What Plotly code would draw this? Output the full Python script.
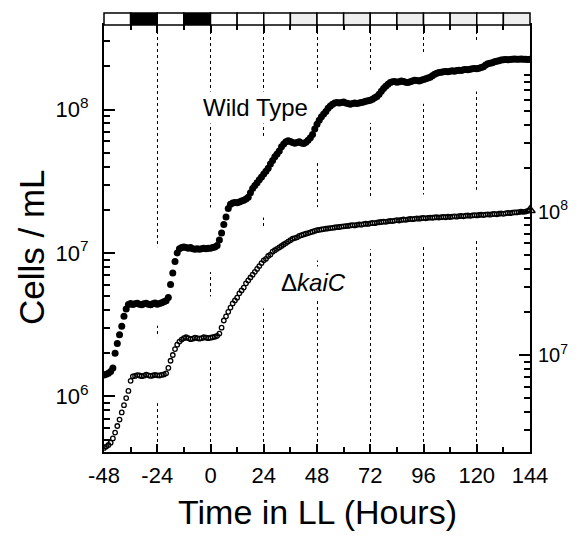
import plotly.graph_objects as go
import math

# ---------------- data ----------------
hours = list(range(-48, 145))

wild_type = [
    1.41e6, 1.43e6, 1.45e6, 1.49e6, 1.58e6, 2.0e6, 2.34e6, 2.69e6, 3.09e6, 3.63e6,   # -48..-39
    4.07e6, 4.37e6, 4.45e6, 4.38e6, 4.42e6, 4.47e6, 4.40e6, 4.36e6, 4.43e6, 4.46e6,  # -38..-29
    4.39e6, 4.35e6, 4.42e6, 4.48e6, 4.40e6, 4.44e6, 4.50e6, 4.58e6, 4.65e6, 4.9e6,   # -28..-19
    6.03e6, 7.24e6, 8.71e6, 1.0e7, 1.07e7, 1.09e7, 1.10e7, 1.09e7, 1.08e7, 1.09e7,   # -18..-9
    1.07e7, 1.06e7, 1.07e7, 1.06e7, 1.07e7, 1.08e7, 1.07e7, 1.08e7, 1.08e7, 1.09e7,  # -8..1
    1.10e7, 1.13e7, 1.23e7, 1.38e7, 1.58e7, 1.78e7, 2.04e7, 2.19e7, 2.23e7, 2.25e7,  # 2..11
    2.24e7, 2.27e7, 2.30e7, 2.33e7, 2.38e7, 2.45e7, 2.63e7, 2.82e7, 2.95e7, 3.09e7,  # 12..21
    3.24e7, 3.39e7, 3.55e7, 3.72e7, 3.89e7, 4.17e7, 4.42e7, 4.68e7, 4.90e7, 5.13e7,  # 22..31
    5.50e7, 5.75e7, 5.95e7, 6.05e7, 5.98e7, 5.90e7, 5.82e7, 5.88e7, 5.95e7, 5.85e7,  # 32..41
    5.80e7, 5.92e7, 6.10e7, 6.35e7, 6.70e7, 7.30e7, 7.90e7, 8.40e7, 8.90e7, 9.30e7,  # 42..51
    9.70e7, 1.02e8, 1.06e8, 1.09e8, 1.11e8, 1.12e8, 1.11e8, 1.12e8, 1.13e8, 1.11e8,  # 52..61
    1.10e8, 1.09e8, 1.10e8, 1.11e8, 1.10e8, 1.11e8, 1.12e8, 1.13e8, 1.14e8, 1.15e8,  # 62..71
    1.16e8, 1.18e8, 1.21e8, 1.23e8, 1.28e8, 1.34e8, 1.40e8, 1.45e8, 1.50e8, 1.54e8,  # 72..81
    1.56e8, 1.57e8, 1.55e8, 1.56e8, 1.58e8, 1.57e8, 1.55e8, 1.54e8, 1.56e8, 1.58e8,  # 82..91
    1.60e8, 1.59e8, 1.58e8, 1.60e8, 1.62e8, 1.64e8, 1.66e8, 1.68e8, 1.72e8, 1.76e8,  # 92..101
    1.79e8, 1.81e8, 1.82e8, 1.83e8, 1.84e8, 1.83e8, 1.85e8, 1.86e8, 1.85e8, 1.87e8,  # 102..111
    1.88e8, 1.87e8, 1.89e8, 1.90e8, 1.89e8, 1.91e8, 1.92e8, 1.93e8, 1.92e8, 1.94e8,  # 112..121
    1.96e8, 1.99e8, 2.04e8, 2.08e8, 2.10e8, 2.12e8, 2.15e8, 2.17e8, 2.19e8, 2.21e8,  # 122..131
    2.22e8, 2.23e8, 2.22e8, 2.23e8, 2.24e8, 2.25e8, 2.24e8, 2.24e8, 2.25e8, 2.24e8,  # 132..141
    2.24e8, 2.23e8, 2.24e8,                                                          # 142..144
]

delta_kaic = [
    2.25e6, 2.30e6, 2.36e6, 2.45e6, 2.62e6, 2.88e6, 3.20e6, 3.55e6, 3.98e6, 4.47e6,  # -48..-39
    5.01e6, 5.62e6, 6.61e6, 7.10e6, 7.15e6, 7.25e6, 7.20e6, 7.12e6, 7.18e6, 7.30e6,  # -38..-29
    7.22e6, 7.15e6, 7.20e6, 7.28e6, 7.22e6, 7.20e6, 7.26e6, 7.32e6, 7.45e6, 8.13e6,  # -28..-19
    9.12e6, 1.0e7, 1.10e7, 1.18e7, 1.24e7, 1.28e7, 1.31e7, 1.33e7, 1.31e7, 1.29e7,   # -18..-9
    1.30e7, 1.32e7, 1.31e7, 1.30e7, 1.31e7, 1.33e7, 1.32e7, 1.31e7, 1.32e7, 1.33e7,  # -8..1
    1.34e7, 1.36e7, 1.41e7, 1.55e7, 1.74e7, 1.86e7, 2.0e7, 2.14e7, 2.29e7, 2.40e7,   # 2..11
    2.51e7, 2.69e7, 2.82e7, 2.95e7, 3.16e7, 3.31e7, 3.47e7, 3.63e7, 3.80e7, 3.98e7,  # 12..21
    4.17e7, 4.37e7, 4.57e7, 4.68e7, 4.90e7, 5.01e7, 5.25e7, 5.37e7, 5.50e7, 5.62e7,  # 22..31
    5.75e7, 5.89e7, 6.03e7, 6.17e7, 6.31e7, 6.46e7, 6.53e7, 6.61e7, 6.76e7, 6.84e7,  # 32..41
    6.92e7, 7.0e7, 7.08e7, 7.16e7, 7.24e7, 7.33e7, 7.41e7, 7.45e7, 7.50e7, 7.55e7,   # 42..51
    7.59e7, 7.62e7, 7.67e7, 7.70e7, 7.74e7, 7.78e7, 7.80e7, 7.85e7, 7.88e7, 7.92e7,  # 52..61
    7.94e7, 8.0e7, 8.05e7, 8.0e7, 8.08e7, 8.13e7, 8.10e7, 8.18e7, 8.22e7, 8.20e7,    # 62..71
    8.28e7, 8.32e7, 8.30e7, 8.38e7, 8.42e7, 8.45e7, 8.51e7, 8.48e7, 8.55e7, 8.60e7,  # 72..81
    8.58e7, 8.65e7, 8.70e7, 8.66e7, 8.74e7, 8.80e7, 8.76e7, 8.82e7, 8.88e7, 8.85e7,  # 82..91
    8.90e7, 8.95e7, 8.92e7, 8.98e7, 9.02e7, 8.96e7, 9.04e7, 9.08e7, 9.05e7, 9.10e7,  # 92..101
    9.12e7, 9.08e7, 9.14e7, 9.18e7, 9.12e7, 9.20e7, 9.16e7, 9.22e7, 9.26e7, 9.20e7,  # 102..111
    9.28e7, 9.32e7, 9.26e7, 9.35e7, 9.38e7, 9.33e7, 9.40e7, 9.44e7, 9.40e7, 9.46e7,  # 112..121
    9.50e7, 9.44e7, 9.52e7, 9.56e7, 9.50e7, 9.58e7, 9.62e7, 9.56e7, 9.65e7, 9.70e7,  # 122..131
    9.64e7, 9.72e7, 9.78e7, 9.74e7, 9.82e7, 9.88e7, 9.85e7, 9.92e7, 9.98e7, 9.95e7,  # 132..141
    1.0e8, 1.01e8, 1.02e8,                                                           # 142..144
]

x_ticks = [-48, -24, 0, 24, 48, 72, 96, 120, 144]
left_ticks = [1e6, 1e7, 1e8]
left_labels = ["10<sup>6</sup>", "10<sup>7</sup>", "10<sup>8</sup>"]
right_ticks = [1e7, 1e8]
right_labels = ["10<sup>7</sup>", "10<sup>8</sup>"]

# light schedule bar, 12 h blocks from -48 to 144: L light, D dark, S subjective (stippled)
bar_states = ["L", "D", "L", "D", "L", "L", "L", "S", "L", "S", "L", "S", "L", "S", "L", "S"]
bar_block = 12

# ---------------- figure ----------------
FONT = "Liberation Sans, Arial, Helvetica, sans-serif"
X0, X1 = -48, 144
left_range = [5.613, 8.589]
right_range = [6.324, 9.300]

# the page body adds an 8 px margin, so the figure is 16 px smaller than the window
W, H = 560, 524
ML, MR, MT, MB = 96, 38, 17, 80
plot_w = W - ML - MR
plot_h = H - MT - MB


def minor_vals(lo, hi):
    vals = []
    for e in range(int(math.floor(lo)), int(math.ceil(hi)) + 1):
        for k in range(2, 10):
            v = k * 10 ** e
            if lo <= math.log10(v) <= hi:
                vals.append(v)
    return vals


fig = go.Figure()

# white halos that interrupt the dotted guide lines around the curves
fig.add_trace(go.Scatter(x=hours, y=wild_type, mode="lines", yaxis="y",
                         line=dict(color="white", width=50), hoverinfo="skip", showlegend=False))
fig.add_trace(go.Scatter(x=hours, y=delta_kaic, mode="lines", yaxis="y2",
                         line=dict(color="white", width=50), hoverinfo="skip", showlegend=False))

fig.add_trace(go.Scatter(x=hours, y=wild_type, mode="markers", yaxis="y", name="Wild Type",
                         marker=dict(symbol="circle", size=7, color="black"), showlegend=False))
fig.add_trace(go.Scatter(x=hours, y=delta_kaic, mode="markers", yaxis="y2", name="ΔkaiC",
                         marker=dict(symbol="circle-open", size=4.5, color="black",
                                     line=dict(width=1.3, color="black")), showlegend=False))
# small open triangle marking the end of the ΔkaiC series at the right axis
fig.add_trace(go.Scatter(x=hours[-1:], y=delta_kaic[-1:], mode="markers", yaxis="y2",
                         marker=dict(symbol="triangle-up-open", size=9, color="black",
                                     line=dict(width=1.5, color="black")),
                         cliponaxis=False, hoverinfo="skip", showlegend=False))

axis_common = dict(showline=True, linecolor="black", linewidth=2, ticks="inside",
                   tickcolor="black", tickwidth=1.5, automargin=False)

fig.update_layout(
    width=W, height=H,
    margin=dict(l=ML, r=MR, t=MT, b=MB, pad=0, autoexpand=False),
    paper_bgcolor="white", plot_bgcolor="white",
    font=dict(family=FONT, color="black"),
    xaxis=dict(range=[X0, X1], tickmode="array", tickvals=x_ticks,
               ticktext=[str(v) for v in x_ticks], ticklen=8, mirror="ticks",
               showgrid=True, gridcolor="black", gridwidth=1, griddash="dot",
               zeroline=False, ticklabelstandoff=3,
               tickfont=dict(family=FONT, size=22, color="black"),
               minor=dict(dtick=12, tick0=-48, ticks="inside", ticklen=5,
                          tickcolor="black", tickwidth=1.5, showgrid=False),
               **axis_common),
    yaxis=dict(type="log", range=left_range, tickmode="array", tickvals=left_ticks,
               ticktext=left_labels, ticklen=11, showgrid=False, zeroline=False,
               ticklabelstandoff=9,
               tickfont=dict(family=FONT, size=22, color="black"),
               minor=dict(tickmode="array", tickvals=minor_vals(*left_range), ticks="inside",
                          ticklen=6, tickcolor="black", tickwidth=1.5, showgrid=False),
               **axis_common),
    yaxis2=dict(type="log", range=right_range, overlaying="y", side="right",
                tickmode="array", tickvals=right_ticks, ticktext=right_labels,
                ticklen=11, showgrid=False, zeroline=False, ticklabelstandoff=2,
                tickfont=dict(family=FONT, size=20, color="black"),
                minor=dict(tickmode="array", tickvals=minor_vals(*right_range), ticks="inside",
                           ticklen=6, tickcolor="black", tickwidth=1.5, showgrid=False),
                **axis_common),
)

# schedule bar above the plot area
bar_h = 12 / plot_h
fills = {"L": "white", "D": "black", "S": "#eeeeee"}
for i, s in enumerate(bar_states):
    t0 = X0 + i * bar_block
    t1 = t0 + bar_block
    fig.add_shape(type="rect", xref="paper", yref="paper",
                  x0=(t0 - X0) / (X1 - X0), x1=(t1 - X0) / (X1 - X0),
                  y0=1, y1=1 + bar_h,
                  fillcolor=fills[s], line=dict(color="black", width=1.5), layer="above")


# labels (positions given as window pixels; plot area spans x 104..530, y 25..452)
def px_x(x):
    return (x - 104) / plot_w


def px_y(y):
    return (452 - y) / plot_h


fig.add_annotation(text="Wild Type", xref="paper", yref="paper", x=px_x(255), y=px_y(107),
                   xanchor="center", yanchor="middle", showarrow=False,
                   font=dict(family=FONT, size=24, color="black"), bgcolor="white", borderpad=2)
fig.add_annotation(text="Δ<i>kaiC</i>", xref="paper", yref="paper", x=px_x(313), y=px_y(282),
                   xanchor="center", yanchor="middle", showarrow=False,
                   font=dict(family=FONT, size=24, color="black"), bgcolor="white", borderpad=2)
fig.add_annotation(text="Cells / mL", xref="paper", yref="paper", x=px_x(31), y=px_y(247),
                   xanchor="center", yanchor="middle", textangle=-90, showarrow=False,
                   font=dict(family=FONT, size=35, color="black"))
fig.add_annotation(text="Time in LL (Hours)", xref="paper", yref="paper", x=0.5, y=px_y(512),
                   xanchor="center", yanchor="middle", showarrow=False, borderpad=0,
                   font=dict(family=FONT, size=34, color="black"))

fig.write_html("out.html")
